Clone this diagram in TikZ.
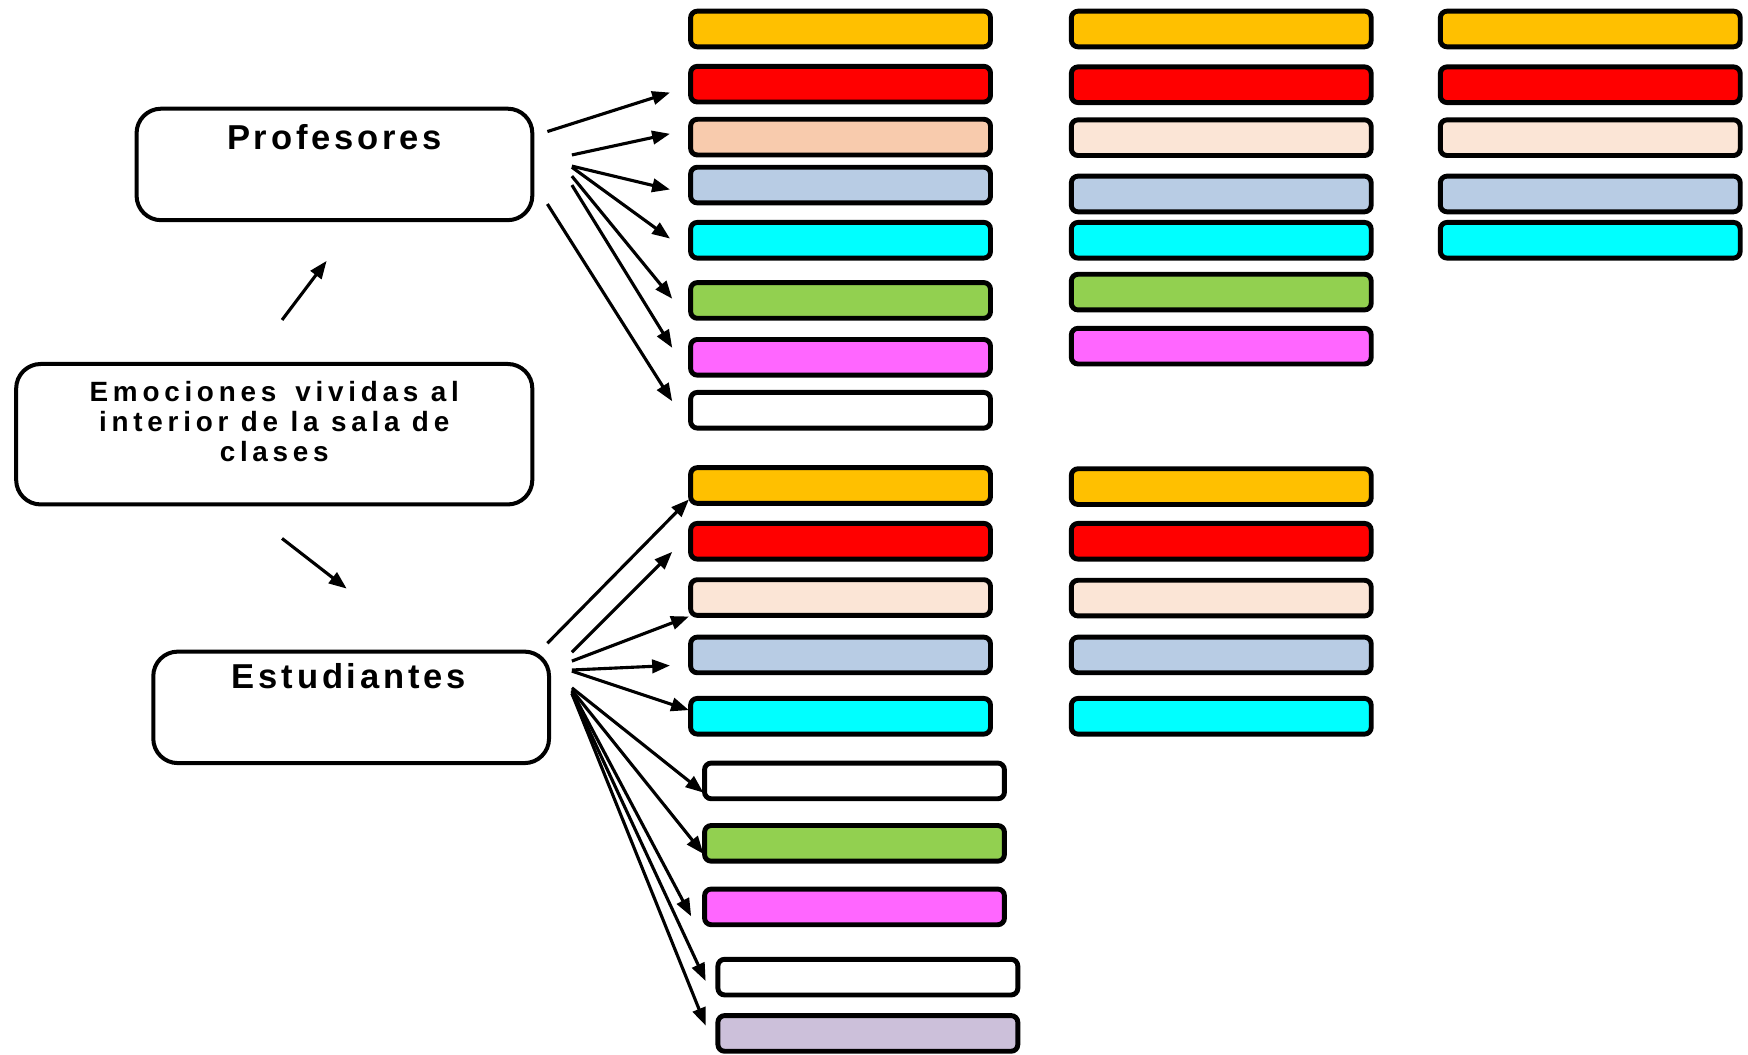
\documentclass[tikz,border=0pt]{standalone}
\usepackage{fontspec}
\setmainfont{Liberation Sans}
\newfontfamily\titlefont[LetterSpace=11]{Liberation Sans}
\newfontfamily\mainfont[LetterSpace=17]{Liberation Sans}
\usetikzlibrary{arrows.meta}

\definecolor{cYellow}{HTML}{FFC000}
\definecolor{cRed}{HTML}{FF0000}
\definecolor{cPeach}{HTML}{F8CBAD}
\definecolor{cPeachLight}{HTML}{FBE5D6}
\definecolor{cBlue}{HTML}{B8CCE4}
\definecolor{cCyan}{HTML}{00FFFF}
\definecolor{cGreen}{HTML}{92D050}
\definecolor{cMagenta}{HTML}{FF66FF}
\definecolor{cLavender}{HTML}{CCC0DA}

\begin{document}
\begin{tikzpicture}[x=1pt,y=-1pt,
  bar/.style={draw=black, line width=4.4pt, rounded corners=6pt,
    minimum width=269pt, minimum height=32pt, inner sep=0pt},
  panel/.style={draw=black, line width=3.6pt, rounded corners=22pt, inner sep=0pt},
  arr/.style={line width=2.8pt, -{Triangle[length=16pt,width=12pt]}},
  caption/.style={anchor=base, inner sep=0pt, font=\titlefont\bfseries\fontsize{31}{33}\selectfont}
]
\useasboundingbox (0,0) rectangle (1568,946);

% ---- main panels
\node[panel, minimum width=355pt, minimum height=100pt] (prof) at (300,147.5) {};
\node[panel, minimum width=463pt, minimum height=126pt] (emo) at (246,389.5) {};
\node[panel, minimum width=355pt, minimum height=100pt] (est) at (315,634.5) {};

\node[caption] (tprof) at (300,134) {Profesores};
\node[caption] (test) at (313,618) {Estudiantes};
% the base anchor of a multi-line node sits on its last line
\node[anchor=base, inner sep=0pt, align=center,
      font=\mainfont\bfseries\fontsize{25}{27}\selectfont] (temo) at (246,414)
  {Emociones\hspace{6pt} vividas al\\interior de la sala de\\clases};

% ---- arrows from the central panel
\coordinate (eu0) at (253,287); \coordinate (eu1) at (293,234);
\coordinate (ed0) at (253,483); \coordinate (ed1) at (311,528);
\draw[arr] (eu0) -- (eu1);
\draw[arr] (ed0) -- (ed1);

% ---- teachers: column 1
\node[bar, fill=cYellow]     (pa1) at (754,26) {};
\node[bar, fill=cRed]        (pa2) at (754,75.5) {};
\node[bar, fill=cPeach]      (pa3) at (754,123) {};
\node[bar, fill=cBlue]       (pa4) at (754,166) {};
\node[bar, fill=cCyan]       (pa5) at (754,215.5) {};
\node[bar, fill=cGreen]      (pa6) at (754,269.5) {};
\node[bar, fill=cMagenta]    (pa7) at (754,320.5) {};
\node[bar, fill=white]       (pa8) at (754,368) {};

% ---- teachers: column 2
\node[bar, fill=cYellow]     (pb1) at (1095.5,26) {};
\node[bar, fill=cRed]        (pb2) at (1095.5,76) {};
\node[bar, fill=cPeachLight] (pb3) at (1095.5,123.5) {};
\node[bar, fill=cBlue]       (pb4) at (1095.5,174) {};
\node[bar, fill=cCyan]       (pb5) at (1095.5,215.5) {};
\node[bar, fill=cGreen]      (pb6) at (1095.5,262) {};
\node[bar, fill=cMagenta]    (pb7) at (1095.5,310.5) {};

% ---- teachers: column 3
\node[bar, fill=cYellow]     (pc1) at (1426.5,26) {};
\node[bar, fill=cRed]        (pc2) at (1426.5,76) {};
\node[bar, fill=cPeachLight] (pc3) at (1426.5,123.5) {};
\node[bar, fill=cBlue]       (pc4) at (1426.5,174) {};
\node[bar, fill=cCyan]       (pc5) at (1426.5,215.5) {};

% ---- students: column 1
\node[bar, fill=cYellow]     (sa1) at (754,435.5) {};
\node[bar, fill=cRed]        (sa2) at (754,485.5) {};
\node[bar, fill=cPeachLight] (sa3) at (754,536) {};
\node[bar, fill=cBlue]       (sa4) at (754,587.5) {};
\node[bar, fill=cCyan]       (sa5) at (754,642.5) {};
\node[bar, fill=white]       (sa6) at (766.5,700.5) {};
\node[bar, fill=cGreen]      (sa7) at (766.5,756.5) {};
\node[bar, fill=cMagenta]    (sa8) at (766.5,813.5) {};
\node[bar, fill=white]       (sa9) at (778.5,876.5) {};
\node[bar, fill=cLavender]   (sa10) at (778.5,927) {};

% ---- students: column 2
\node[bar, fill=cYellow]     (sb1) at (1095.5,436.5) {};
\node[bar, fill=cRed]        (sb2) at (1095.5,485.5) {};
\node[bar, fill=cPeachLight] (sb3) at (1095.5,536.5) {};
\node[bar, fill=cBlue]       (sb4) at (1095.5,587.5) {};
\node[bar, fill=cCyan]       (sb5) at (1095.5,642.5) {};

% ---- teacher fan
\coordinate (pf1) at (491,118); \coordinate (pt1) at (601,83);
\coordinate (pf2) at (513,139); \coordinate (pt2) at (601,120);
\coordinate (pf3) at (513,149); \coordinate (pt3) at (601,170);
\coordinate (pf4) at (513,150); \coordinate (pt4) at (601,214);
\coordinate (pf5) at (513,158); \coordinate (pt5) at (603,268);
\coordinate (pf6) at (513,166); \coordinate (pt6) at (603,312);
\coordinate (pf7) at (491,183); \coordinate (pt7) at (603,360);
\foreach \i in {1,...,7} \draw[arr] (pf\i) -- (pt\i);

% ---- student fan
\coordinate (sf1) at (491,577);  \coordinate (st1) at (618,448);
\coordinate (sf2) at (513,585);  \coordinate (st2) at (603,495);
\coordinate (sf3) at (513,593);  \coordinate (st3) at (618,553);
\coordinate (sf4) at (513,601);  \coordinate (st4) at (601,597);
\coordinate (sf5) at (513,602);  \coordinate (st5) at (618,637);
\coordinate (sf6) at (513,617);  \coordinate (st6) at (631,711);
\coordinate (sf7) at (513,619);  \coordinate (st7) at (631,766);
\coordinate (sf8) at (513,620);  \coordinate (st8) at (620,822);
\coordinate (sf9) at (513,622);  \coordinate (st9) at (633,880);
\coordinate (sf10) at (513,622); \coordinate (st10) at (633,920);
\foreach \i in {1,...,10} \draw[arr] (sf\i) -- (st\i);
\end{tikzpicture}
\end{document}
